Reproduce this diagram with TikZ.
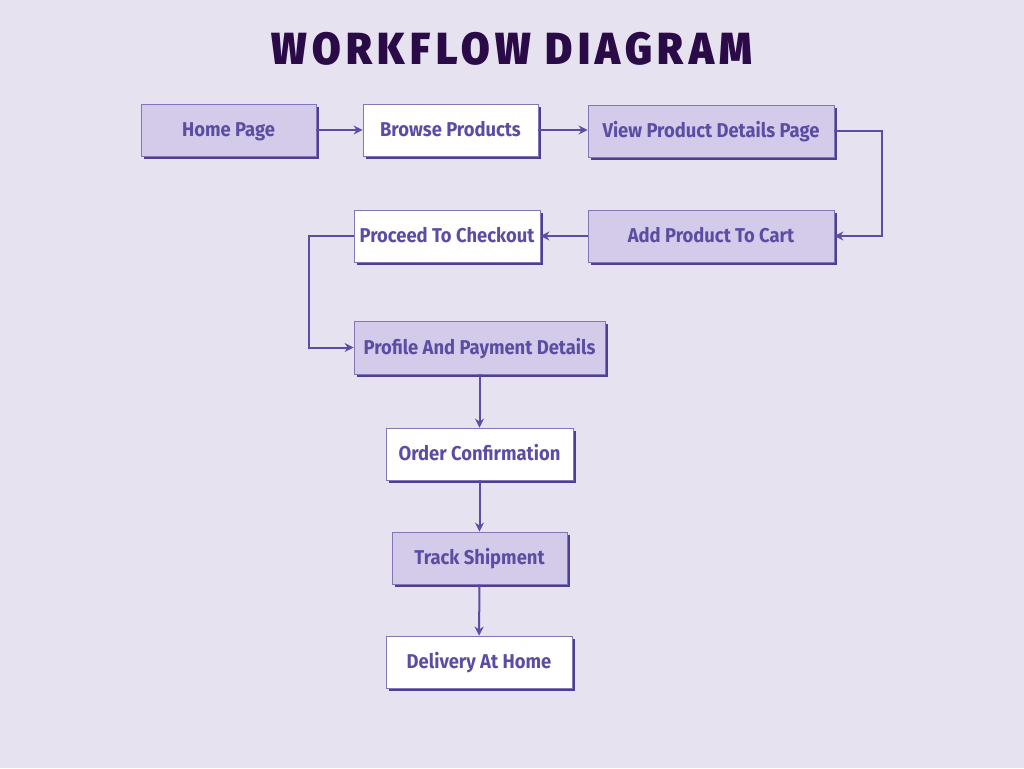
\documentclass[tikz,border=0pt]{standalone}
\usepackage{fontspec}
\usetikzlibrary{arrows.meta,shadows}
\newfontfamily\labelfont[FakeStretch=0.92]{Fira Sans Bold}
\newfontfamily\titlefont[FakeStretch=0.92,LetterSpace=12]{Fira Sans Black}
\definecolor{bgc}{HTML}{E6E2EF}
\definecolor{lav}{HTML}{D3CBE9}
\definecolor{txtc}{HTML}{5A4DA3}
\definecolor{edgec}{HTML}{8476B4}
\definecolor{shadc}{HTML}{4E3F94}
\definecolor{titlec}{HTML}{2B0A48}
\definecolor{linec}{HTML}{5A4DA3}
\tikzset{
  box/.style={draw=edgec, line width=0.8pt, text=txtc, font=\labelfont\fontsize{20}{23}\selectfont,
    minimum height=52pt, inner sep=0pt, anchor=center, text height=13.8pt, text depth=0pt,
    drop shadow={shadow xshift=2.5pt, shadow yshift=-2.5pt, opacity=1, fill=shadc}},
  lavbox/.style={box, fill=lav},
  whitebox/.style={box, fill=white},
  flowarrow/.style={draw=linec, line width=2pt, -{Stealth[length=9pt,width=9pt]}}
}
\begin{document}
\begin{tikzpicture}[x=1pt,y=-1pt]
\fill[bgc] (0,0) rectangle (1024,768);
\useasboundingbox (0,0) rectangle (1024,768);
\node[text=titlec, font=\titlefont\fontsize{45}{50}\selectfont] (title) at (512,49) {WORKFLOW DIAGRAM};
\node[lavbox, minimum width=175pt] (home) at (228.5,130) {Home Page};
\node[whitebox, minimum width=175pt] (browse) at (450.5,130) {Browse Products};
\node[lavbox, minimum width=246pt] (view) at (711,131) {View Product Details Page};
\node[lavbox, minimum width=246pt] (add) at (711,236) {Add Product To Cart};
\node[whitebox, minimum width=186pt] (proceed) at (447,236) {Proceed To Checkout};
\node[lavbox, minimum width=251pt, minimum height=53pt] (profile) at (479.5,347.5) {Profile And Payment Details};
\node[whitebox, minimum width=187pt] (order) at (479.5,454) {Order Confirmation};
\node[lavbox, minimum width=175pt] (track) at (479.5,558) {Track Shipment};
\node[whitebox, minimum width=186pt] (delivery) at (479,662) {Delivery At Home};
\draw[flowarrow] (home) -- (browse);
\draw[flowarrow] (browse.east) -- (browse.east -| view.west);
\draw[flowarrow] (view.east) -- ++(48,0) |- (add.east);
\draw[flowarrow] (add) -- (proceed);
\draw[flowarrow] (proceed.west) -- ++(-45,0) |- (profile.west);
\draw[flowarrow] (profile) -- (order);
\draw[flowarrow] (order) -- (track);
\draw[flowarrow] (track) -- (delivery);
\end{tikzpicture}
\end{document}
